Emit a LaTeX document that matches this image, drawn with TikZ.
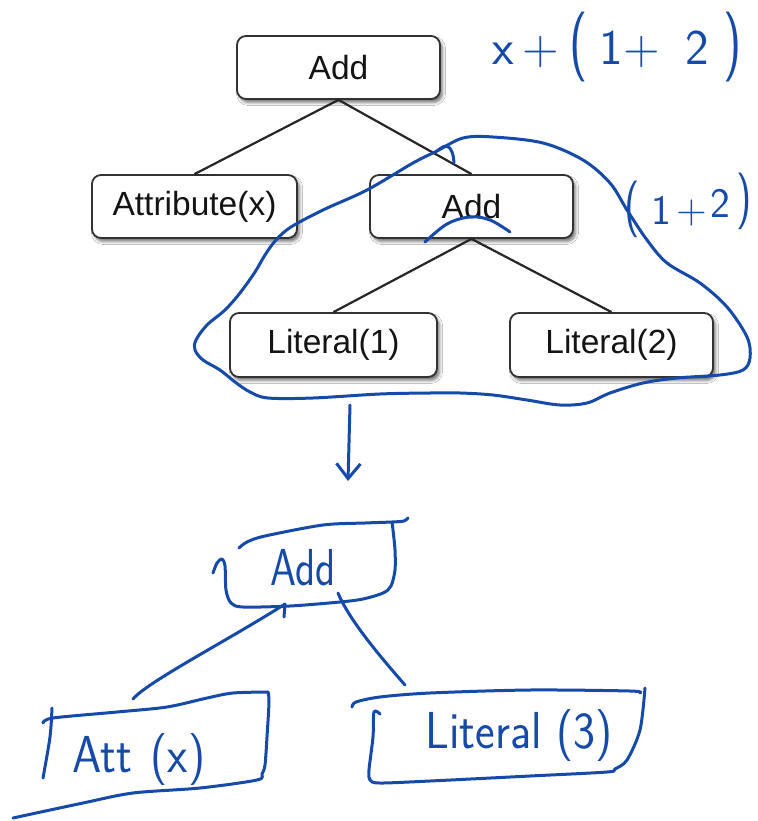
\documentclass[tikz,border=0pt]{standalone}
\usepackage{graphicx}
\usepackage{fontspec}
\setmainfont{Liberation Sans}
\usetikzlibrary{shadows.blur,arrows.meta}
\definecolor{pen}{RGB}{22,74,168}
\definecolor{boxline}{RGB}{50,50,50}
\newcommand{\tallparen}[2]{\scalebox{1}[#1]{#2}}

\begin{document}
\begin{tikzpicture}[x=1pt,y=-1pt,
  treebox/.style={draw=boxline, line width=1.8pt, fill=white, rounded corners=9pt,
    minimum width=203pt, minimum height=63pt, inner sep=0pt,
    font=\fontsize{33.5}{38}\selectfont, text=black!92,
    blur shadow={shadow xshift=2.5pt, shadow yshift=-3.5pt, shadow blur radius=3pt, shadow opacity=55}},
  treeedge/.style={line width=2.2pt, draw=black!85},
  ink/.style={draw=pen, line width=3pt, line cap=round, line join=round},
  inktext/.style={text=pen, inner sep=0pt},
  handfont/.style={font=\sffamily\fontsize{52}{52}\selectfont},
]
\useasboundingbox[fill=white] (0,0) rectangle (757,821);

% printed expression tree
\node[treebox] (add1) at (338.5,67.5) {Add};
\node[treebox, minimum width=205pt] (attr) at (194.5,206.5) {Attribute(x)};
\node[treebox] (add2) at (471.5,206.5) {Add};
\node[treebox, minimum width=207pt, minimum height=64pt] (lit1) at (333.5,345) {Literal(1)};
\node[treebox, minimum height=64pt] (lit2) at (611.5,345) {Literal(2)};

\draw[treeedge] (add1.south) -- (attr.north);
\draw[treeedge] (add1.south) -- (add2.north);
\draw[treeedge] (add2.south) -- (lit1.north);
\draw[treeedge] (add2.south) -- (lit2.north);

% pen annotations on the printed tree
\node[inktext, font=\sffamily\fontsize{50}{50}\selectfont] (exprtop) at (617,47)
  {x\hspace{9pt}+\hspace{10pt}\tallparen{1.4}{(}\hspace{12pt}1+\hspace{26pt}2\hspace{14pt}\tallparen{1.4}{)}};
\node[inktext, font=\sffamily\fontsize{42}{42}\selectfont] (exprsub) at (688,205)
  {\tallparen{1.35}{(}\hspace{12pt}\raisebox{-1pt}{1}\hspace{5pt}+\hspace{4pt}\raisebox{6pt}{2}\hspace{6pt}\raisebox{8pt}{\tallparen{1.35}{)}}};

% loop round the sub-tree
\draw[ink] plot[smooth cycle, tension=0.55] coordinates {
  (437,151) (463,138) (493,137) (543,143) (583,160) (610,183) (627,210)
  (647,240) (667,263) (700,283) (727,307) (747,337) (750,358) (743,370)
  (720,375) (677,378) (643,383) (610,393) (587,403) (560,405) (527,400)
  (493,395) (460,393) (430,393) (380,394) (313,398) (268,398) (250,392)
  (235,382) (220,370) (203,360) (195,350) (196,340) (207,325) (225,310)
  (240,293) (255,272) (265,255) (276,240) (291,227) (323,210) (367,190)
  (413,163)};
\draw[ink] plot[smooth, tension=0.7] coordinates {(437,151) (446,146) (452,152) (454,163)};
% stroke under the middle Add
\draw[ink] plot[smooth, tension=0.6] coordinates {(425,242) (447,224) (470,217) (490,220) (510,232)};

% arrow down to the rewritten tree
\coordinate (arrtop) at (350,405);
\coordinate (arrbot) at (348,481);
\draw[ink, -{Straight Barb[length=15pt,width=24pt]}] (arrtop) -- (arrbot);

% rewritten tree, drawn by hand
\node[inktext, handfont, xscale=0.8] (hadd) at (303,568) {Add};
\node[inktext, handfont, xscale=0.9] (hatt) at (139,760) {Att\hspace{20pt}(x)};
\node[inktext, handfont, xscale=0.9] (hlit) at (519,736) {Literal (3)};

% box round Add
\draw[ink] plot[smooth, tension=0.5] coordinates {(239,548) (247,542) (265,536) (323,525) (365,523) (392,522) (404,521) (408,518)};
\draw[ink] plot[smooth, tension=0.5] coordinates {(213,573) (217,563) (222,559) (225,566) (226,590) (231,603) (243,607)
  (290,606) (340,602) (363,599) (383,593) (391,586) (395,570) (395,550) (393,530) (392,522)};

% box round Att (x)
\draw[ink] plot[smooth, tension=0.5] coordinates {(43,723) (53,718) (117,712) (167,707) (207,698) (233,693) (268,692)};
\draw[ink] plot[smooth, tension=0.5] coordinates {(52,708) (50,737) (43,778)};
\draw[ink] plot[smooth, tension=0.5] coordinates {(268,692) (269,702) (267,737) (265,765) (262,774) (257,780)
  (200,788) (133,793) (83,803) (13,818)};

% box round Literal (3)
\draw[ink] plot[smooth, tension=0.5] coordinates {(352,707) (356,702) (380,697) (430,693) (530,690) (630,691) (640,693)};
\draw[ink] plot[smooth, tension=0.5] coordinates {(380,714) (374,712) (373,737) (369,770) (370,780) (380,783)
  (430,781) (530,776) (607,772) (615,769) (627,760) (640,730) (645,688)};

% connectors of the rewritten tree
\coordinate (lc1) at (133,699);
\coordinate (lc2) at (285,604);
\coordinate (rc1) at (338,593);
\coordinate (rc2) at (405,685);
\draw[ink] (lc1) .. controls (147,682) and (232,638) .. (lc2);
\draw[ink] (lc2) -- (284,617);
\draw[ink] (rc1) .. controls (350,622) and (385,662) .. (rc2);
\end{tikzpicture}
\end{document}
